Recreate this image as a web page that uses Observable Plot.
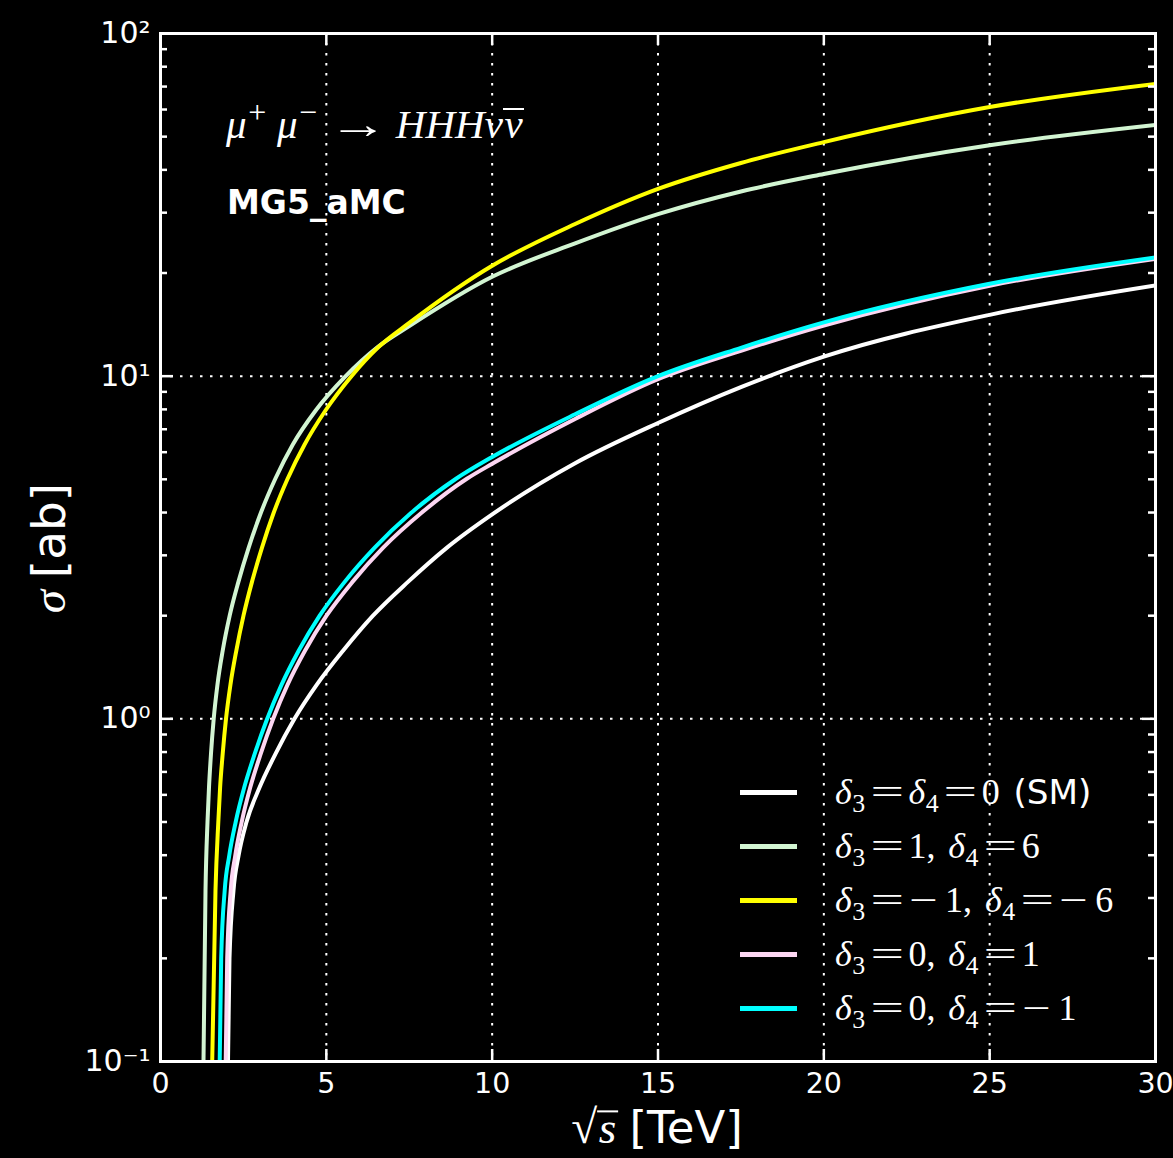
<!DOCTYPE html>
<html>
<head>
<meta charset="utf-8">
<script src="https://cdn.jsdelivr.net/npm/d3@7"></script>
<script src="https://cdn.jsdelivr.net/npm/@observablehq/plot@0.6"></script>
<style>
  body { margin: 0; background: #000; }
  #wrap { position: relative; width: 1173px; height: 1158px; background: #000; overflow: hidden; }
  .ov { position: absolute; color: #fff; white-space: nowrap; line-height: 1; }
  .m { font-family: "Liberation Serif", "DejaVu Serif", serif; }
  .i { font-style: italic; }
  .sans { font-family: "DejaVu Sans", sans-serif; font-style: normal; }
  .sub { font-size: 0.72em; position: relative; top: 0.3em; margin-left: 0.02em; }
  .sup { font-size: 0.78em; position: relative; top: -0.48em; margin-left: 0.05em; }
  .row { position: absolute; left: 740px; height: 44px; display: flex; align-items: center; color: #fff; white-space: nowrap; }
  .swatch { width: 57px; height: 5px; margin-right: 38px; }
  .op { display: inline-block; text-align: center; }
  .op > span { display: inline-block; }
  .eqop { width: 1.2em; }
  .eqop > span { transform: scaleX(1.65); }
  .negop { width: 0.8em; margin-right: 0.22em; }
  .negop > span { transform: scaleX(1.4); }
  .bar { display: inline-block; border-top: 2px solid #fff; line-height: 0.72; padding: 0 0.04em; }
  .arrow { display: inline-block; transform: scaleX(1.45); margin: 0 0.42em 0 0.5em; }
</style>
</head>
<body>
<div id="wrap"><div id="chart"></div></div>
<script>
// Cross sections sigma(mu+ mu- -> H H H nu nubar) in ab versus sqrt(s) in TeV,
// for several trilinear (delta3) and quartic (delta4) Higgs self-coupling shifts.

// delta3 = delta4 = 0 (SM)
const sqrtsSM = [2.035, 2.080, 2.201, 2.352, 2.593, 2.985, 3.467, 4.040, 4.719, 5.503, 6.407, 7.462, 8.638, 10, 12.5, 15, 17.5, 20, 25, 30];
const sigmaSM = [0.10, 0.20, 0.316, 0.398, 0.50, 0.63, 0.79, 1.0, 1.26, 1.58, 2.0, 2.51, 3.16, 3.95, 5.57, 7.3, 9.29, 11.4, 15.1, 18.4];

// delta3 = 1, delta4 = 6
const sqrtsP1P6 = [1.296, 1.357, 1.417, 1.462, 1.522, 1.604, 1.718, 1.875, 2.086, 2.349, 2.659, 3.021, 3.458, 3.986, 4.679, 5.583, 6.548, 7.5, 10, 12.5, 15, 17.5, 20, 25, 30];
const sigmaP1P6 = [0.10, 0.316, 0.50, 0.63, 0.79, 1.0, 1.26, 1.58, 2.0, 2.51, 3.16, 3.98, 5.01, 6.31, 7.94, 10.0, 12.16, 14.0, 19.5, 24.4, 29.7, 34.6, 38.9, 47.2, 54.1];

// delta3 = -1, delta4 = -6
const sqrtsM1M6 = [1.559, 1.658, 1.743, 1.797, 1.875, 1.975, 2.110, 2.285, 2.502, 2.758, 3.060, 3.407, 3.829, 4.341, 4.974, 5.758, 6.572, 7.5, 10, 12.5, 15, 17.5, 20, 25, 30];
const sigmaM1M6 = [0.10, 0.316, 0.50, 0.63, 0.79, 1.0, 1.26, 1.58, 2.0, 2.51, 3.16, 3.98, 5.01, 6.31, 7.94, 10.0, 12.16, 14.3, 21.0, 27.8, 35.2, 41.9, 48.2, 61.0, 71.3];

// delta3 = 0, delta4 = 1
const sqrts0P1 = [1.966, 2.011, 2.117, 2.252, 2.448, 2.705, 3.021, 3.398, 3.835, 4.356, 5.005, 5.788, 6.714, 7.853, 9.225, 10, 12.5, 15, 17.5, 20, 25, 30];
const sigma0P1 = [0.10, 0.20, 0.316, 0.398, 0.50, 0.63, 0.79, 1.0, 1.26, 1.58, 2.0, 2.51, 3.16, 3.98, 5.01, 5.55, 7.5, 9.8, 11.86, 14.06, 18.37, 22.0];

// delta3 = 0, delta4 = -1
const sqrts0M1 = [1.785, 1.830, 1.936, 2.071, 2.267, 2.524, 2.840, 3.217, 3.654, 4.166, 4.799, 5.553, 6.458, 7.543, 8.899, 10, 12.5, 15, 17.5, 20, 25, 30];
const sigma0M1 = [0.10, 0.20, 0.316, 0.398, 0.50, 0.63, 0.79, 1.0, 1.26, 1.58, 2.0, 2.51, 3.16, 3.98, 5.01, 5.81, 7.74, 10.0, 12.1, 14.35, 18.6, 22.2];

// legend entries, in drawing order
const seriesKeys = ["SM", "P1P6", "M1M6", "0P1", "0M1"];
const seriesColors = ["#ffffff", "#d2f5d2", "#ffff00", "#fcd6f2", "#00ffff"];
const d3s = '<i>δ</i><span class="sub">3</span>';
const d4s = '<i>δ</i><span class="sub">4</span>';
const eq = '<span class="op eqop"><span>=</span></span>';
const neg = '<span class="op negop"><span>−</span></span>';
const comma = '<span style="margin-right:0.36em">,</span>';
const seriesLabels = [
  `${d3s}${eq}${d4s}${eq}0<span class="sans" style="font-size:0.95em;margin-left:0.4em">(SM)</span>`,
  `${d3s}${eq}1${comma}${d4s}${eq}6`,
  `${d3s}${eq}${neg}1${comma}${d4s}${eq}${neg}6`,
  `${d3s}${eq}0${comma}${d4s}${eq}1`,
  `${d3s}${eq}0${comma}${d4s}${eq}${neg}1`
];

// axis ticks
const xTicks = [0, 5, 10, 15, 20, 25, 30];
const xGrid = [5, 10, 15, 20, 25];
const yMajor = [0.1, 1, 10, 100];
const yGrid = [1, 10];
const yMinor = [-1, 0, 1].flatMap(e => [2, 3, 4, 5, 6, 7, 8, 9].map(k => k * Math.pow(10, e)));

const seriesData = {
  SM: [sqrtsSM, sigmaSM],
  P1P6: [sqrtsP1P6, sigmaP1P6],
  M1M6: [sqrtsM1M6, sigmaM1M6],
  "0P1": [sqrts0P1, sigma0P1],
  "0M1": [sqrts0M1, sigma0M1]
};

const width = 1173, height = 1158;
const margin = {top: 33, right: 18, bottom: 97, left: 160};
const innerW = width - margin.left - margin.right;
const innerH = height - margin.top - margin.bottom;

const supDigits = {"-": "⁻", "0": "⁰", "1": "¹", "2": "²", "3": "³"};
const powerLabel = d => "10" + String(Math.round(Math.log10(d))).split("").map(c => supDigits[c]).join("");

const white = "#ffffff";
const dotted = {stroke: white, strokeWidth: 2, strokeDasharray: "2.5,7.5"};

const lineMarks = seriesKeys.map((key, i) => {
  const [xs, ys] = seriesData[key];
  const rows = xs.map((x, j) => ({sqrts: x, sigma: ys[j]}));
  return Plot.line(rows, {x: "sqrts", y: "sigma", stroke: seriesColors[i], strokeWidth: 4, curve: "monotone-x", clip: true});
});

const chart = Plot.plot({
  width, height,
  marginTop: margin.top, marginRight: margin.right, marginBottom: margin.bottom, marginLeft: margin.left,
  style: {background: "#000", color: white, fontFamily: "DejaVu Sans, sans-serif"},
  x: {domain: [0, 30]},
  y: {type: "log", domain: [0.1, 100]},
  marks: [
    Plot.ruleX(xGrid, {x: d => d, ...dotted}),
    Plot.ruleY(yGrid, {y: d => d, ...dotted}),
    ...lineMarks,
    // inward ticks on all four sides
    Plot.tickY(yMajor, {y: d => d, stroke: white, strokeWidth: 2.5, insetRight: innerW - 13}),
    Plot.tickY(yMajor, {y: d => d, stroke: white, strokeWidth: 2.5, insetLeft: innerW - 13}),
    Plot.tickY(yMinor, {y: d => d, stroke: white, strokeWidth: 2.5, insetRight: innerW - 7}),
    Plot.tickY(yMinor, {y: d => d, stroke: white, strokeWidth: 2.5, insetLeft: innerW - 7}),
    Plot.tickX(xTicks, {x: d => d, stroke: white, strokeWidth: 2.5, insetTop: innerH - 12}),
    Plot.tickX(xTicks, {x: d => d, stroke: white, strokeWidth: 2.5, insetBottom: innerH - 12}),
    Plot.frame({stroke: white, strokeWidth: 3}),
    Plot.axisX({ticks: xTicks, tickSize: 0, tickPadding: 11, fontSize: 28.5, label: null, fill: white}),
    Plot.axisY({ticks: yMajor, tickSize: 0, tickPadding: 10, fontSize: 30, label: null, fill: white, tickFormat: powerLabel})
  ]
});

const wrap = document.getElementById("wrap");
document.getElementById("chart").appendChild(chart);

function overlay(html, style, cls = "ov") {
  const el = document.createElement("div");
  el.className = cls;
  el.innerHTML = html;
  Object.assign(el.style, style);
  wrap.appendChild(el);
  return el;
}

// process and generator annotations
overlay('<span class="i">μ</span><span class="sup">+</span><span class="i" style="margin-left:0.26em">μ</span><span class="sup">−</span><span class="arrow">→</span><span class="i">HHHν</span><span class="i bar">ν</span>',
  {left: "226px", top: "104px", fontSize: "41px"}, "ov m");
overlay("MG5_aMC", {left: "227px", top: "186px", fontSize: "33px", fontWeight: "bold", fontFamily: "DejaVu Sans, sans-serif"});

// axis titles
overlay('<span class="m i">σ</span> <span class="sans">[ab]</span>',
  {left: "49px", top: "548px", fontSize: "47px", transform: "translate(-50%,-50%) rotate(-90deg)"});
overlay('<span class="m"><span style="font-size:1.05em">√</span><span class="i bar">s</span></span> <span class="sans">[TeV]</span>',
  {left: "657px", top: "1128px", fontSize: "45px", transform: "translate(-50%,-50%)"});

// legend
const rowCenters = [792, 846, 900, 954, 1008];
seriesKeys.forEach((key, i) => {
  const row = document.createElement("div");
  row.className = "row m";
  row.style.top = (rowCenters[i] - 22) + "px";
  row.style.fontSize = "36px";
  row.innerHTML = `<div class="swatch" style="background:${seriesColors[i]}"></div><div>${seriesLabels[i]}</div>`;
  wrap.appendChild(row);
});
</script>
</body>
</html>
